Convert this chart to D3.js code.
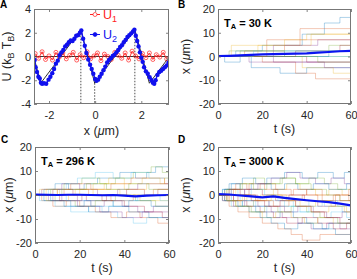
<!DOCTYPE html>
<html><head><meta charset="utf-8">
<script src="https://cdn.jsdelivr.net/npm/d3@7"></script>
<style>
body{margin:0;background:#fff}
text{font-family:"Liberation Sans",Arial,Helvetica,sans-serif}
</style>
</head><body><script>

// ---- panel A data: potential profiles ----
var u1x = [-2.6,-2.45,-2.3,-2.15,-2.0,-1.85,-1.7,-1.55,-1.4,-1.25,-1.1,-0.95,-0.8,-0.65,-0.5,-0.35,-0.2,-0.05,0.1,0.25,0.4,0.55,0.7,0.85,1.0,1.15,1.3,1.45,1.6,1.75,1.9,2.05,2.2,2.35,2.5,2.65,2.8,2.95,3.1];
var u1y = [0.25,-0.15,0.4,-0.25,0.05,-0.3,0.35,-0.05,0.3,-0.2,0.1,0.35,-0.3,0.15,-0.1,0.4,-0.2,0.05,0.3,-0.35,0.2,0.0,-0.25,0.35,0.1,-0.15,0.3,-0.3,0.45,0.05,-0.2,0.25,-0.1,0.3,-0.25,0.15,-0.05,0.35,-0.2];

var u2x = [-2.62,-2.58,-2.52,-2.46,-2.40,-2.35,-2.30,-2.22,-2.12,-2.02,-1.94,-1.86,-1.78,-1.70,-1.62,-1.54,-1.46,-1.38,-1.30,-1.22,-1.14,-1.06,-0.98,-0.90,-0.82,-0.74,-0.66,-0.60,-0.52,-0.45,-0.38,-0.30,-0.22,-0.15,-0.08,0.00,0.06,0.13,0.20,0.28,0.36,0.44,0.52,0.60,0.68,0.76,0.84,0.92,1.00,1.08,1.16,1.24,1.32,1.40,1.48,1.56,1.64,1.70,1.76,1.82,1.88,1.94,2.00,2.06,2.12,2.20,2.28,2.36,2.44,2.50,2.56,2.62,2.70,2.78,2.86,2.94,3.02,3.10,3.18];
var u2y = [-0.3,-0.9,-1.3,-1.7,-1.85,-2.2,-2.3,-2.25,-2.3,-1.95,-1.7,-1.4,-1.05,-0.6,-0.35,0.1,0.35,0.55,0.85,1.0,1.2,1.35,1.3,1.5,1.75,1.8,2.0,2.2,1.5,0.9,0.3,-0.25,-0.7,-1.05,-1.45,-1.9,-2.05,-1.95,-1.7,-1.45,-1.15,-0.85,-0.5,-0.3,-0.15,0.05,0.15,0.35,0.55,0.8,0.95,1.2,1.4,1.65,1.8,1.95,2.1,2.25,1.75,1.3,0.85,0.35,-0.1,-0.45,-0.9,-1.25,-1.45,-1.75,-2.0,-2.2,-2.3,-2.0,-1.55,-1.3,-1.2,-1.05,-0.9,-0.75,-0.5];

// theoretical ratchet (sawtooth) and flat potential
var sawX = [-2.65,-2.36,-0.62,-0.02,1.72,2.35,3.2];
var sawY = [-0.08,-2.25,2.25,-2.25,2.25,-2.25,-0.05];
var flatX = [-2.65,3.2];
var flatY = [0,0];
// dashed markers at peaks / trough
var dashX = [-0.62,-0.02,1.72];
var dashTop = [2.25,-2.25,2.25];

// ---- panels B-D: trajectories as flat [t, x, t, x, ...] change points ----
var trajB = [
  [0,0, 8,2.35, 20,4.7, 38,9.4, 48,14.1, 55,16.45],
  [0,0, 12,2.35, 30,4.7, 37,11.75],
  [0,0, 18,4.7, 42,9.4],
  [0,0, 25,4.7, 45,7.05],
  [0,0, 10,2.35, 50,4.7],
  [0,0, 30,2.35],
  [0,0, 40,-2.35],
  [0,0, 15,-4.7, 28,-7.05, 40,-4.7],
  [0,0, 20,-2.35, 35,-7.05, 44,-9.4],
  [0,0, 38,-4.7, 52,-7.05],
  [0,0, 25,-2.35, 48,-4.7],
  [0,0, 5,2.35, 30,0],
  [0,0],
  [0,0, 35,2.35, 55,4.7],
  [0,0, 3,-2.35, 10,0, 50,2.35],
  [0,0, 22,7.05],
  [0,0, 6,4.7, 30,7.05, 40,9.4],
  [0,0, 14,-2.35],
  [0,0, 45,-2.35],
  [0,0, 16,2.35]
];
var trajC = [
  [0,0, 4,2.35, 9,4.7, 15,2.35, 22,4.7, 28,7.05, 38,9.4, 45,7.05, 50,9.4, 54,11.75],
  [0,0, 3,-2.35, 8,-4.7, 14,-2.35, 20,-4.7, 27,-7.05, 34,-9.4, 41,-7.05, 47,-9.4, 55,-11.75],
  [0,0, 5,2.35, 11,0, 18,2.35, 26,4.7, 33,7.05, 40,4.7, 48,7.05, 56,4.7],
  [0,0, 6,-2.35, 12,0, 19,-2.35, 25,-4.7, 31,-2.35, 39,-4.7, 46,-7.05, 53,-4.7],
  [0,0, 7,2.35, 13,4.7, 21,7.05, 29,4.7, 36,7.05, 44,9.4, 52,11.75, 57,9.4],
  [0,0, 2,-2.35, 9,-4.7, 16,-7.05, 24,-4.7, 30,-7.05, 37,-9.4, 44,-11.75, 50,-9.4],
  [0,0, 8,2.35, 17,0, 23,-2.35, 32,0, 41,2.35, 49,0, 55,2.35],
  [0,0, 4,-2.35, 13,-4.7, 22,-2.35, 35,-4.7, 42,-7.05, 51,-9.4],
  [0,0, 10,2.35, 16,4.7, 25,2.35, 34,4.7, 43,7.05, 58,4.7],
  [0,0, 5,-2.35, 15,0, 26,2.35, 38,0, 47,-2.35],
  [0,0, 3,2.35, 12,4.7, 20,2.35, 28,0, 37,2.35, 46,4.7],
  [0,0, 9,-2.35, 18,-4.7, 27,-2.35, 36,0, 45,-2.35, 54,-4.7],
  [0,0, 6,2.35, 14,4.7, 19,7.05, 27,9.4, 35,7.05, 43,9.4, 51,7.05],
  [0,0, 11,-2.35, 21,0, 30,-2.35, 40,-4.7, 49,-7.05, 57,-9.4],
  [0,0, 7,-2.35, 16,-4.7, 24,-7.05, 33,-4.7, 42,-2.35, 52,-4.7],
  [0,0, 13,2.35, 24,0, 34,-2.35, 44,0, 53,2.35],
  [0,0, 2,2.35, 10,0, 20,2.35, 31,4.7, 40,2.35, 50,4.7, 58,7.05],
  [0,0, 8,-2.35, 19,-4.7, 29,-7.05, 39,-9.4, 48,-7.05],
  [0,0, 12,2.35, 23,4.7, 32,2.35, 42,4.7, 51,2.35],
  [0,0, 14,-2.35, 25,-4.7, 35,-2.35, 46,0, 56,-2.35]
];
var trajD = [
  [0,0, 3,2.35, 6,4.7, 10,2.35, 15,4.7, 22,7.05, 30,9.4, 38,7.05, 45,9.4, 52,7.05, 57,9.4],
  [0,0, 2,-2.35, 5,-4.7, 9,-7.05, 14,-9.4, 20,-11.75, 27,-14.1, 33,-16.45, 38,-18.8, 46,-16.45],
  [0,0, 4,2.35, 8,0, 13,-2.35, 19,0, 25,2.35, 31,4.7, 37,2.35, 44,0, 50,2.35, 56,0],
  [0,0, 3,-2.35, 7,-4.7, 12,-2.35, 18,-4.7, 24,-7.05, 29,-9.4, 36,-11.75, 42,-14.1, 49,-11.75, 55,-14.1],
  [0,0, 5,2.35, 11,4.7, 16,7.05, 21,4.7, 28,7.05, 35,4.7, 41,7.05, 48,4.7, 54,2.35],
  [0,0, 2,2.35, 6,0, 10,-2.35, 17,-4.7, 23,-2.35, 30,-4.7, 37,-7.05, 43,-9.4, 51,-7.05, 58,-9.4],
  [0,0, 4,-2.35, 9,0, 14,2.35, 20,0, 26,-2.35, 32,0, 39,-2.35, 45,-4.7, 53,-2.35],
  [0,0, 6,-2.35, 11,-4.7, 17,-7.05, 22,-9.4, 28,-7.05, 34,-9.4, 40,-11.75, 47,-14.1, 53,-16.45],
  [0,0, 3,2.35, 8,4.7, 13,2.35, 19,4.7, 26,2.35, 33,0, 40,2.35, 47,0, 55,-2.35],
  [0,0, 5,-2.35, 10,-4.7, 16,-2.35, 22,0, 29,-2.35, 35,-4.7, 42,-7.05, 50,-4.7, 57,-7.05],
  [0,0, 2,-2.35, 7,0, 12,2.35, 18,4.7, 24,7.05, 31,9.4, 37,7.05, 44,4.7, 51,7.05, 57,4.7],
  [0,0, 4,-2.35, 8,-4.7, 15,-7.05, 21,-4.7, 27,-7.05, 33,-4.7, 40,-7.05, 46,-9.4, 54,-11.75],
  [0,0, 3,2.35, 9,0, 15,2.35, 21,0, 27,-2.35, 34,-4.7, 41,-2.35, 48,-4.7, 56,-7.05],
  [0,0, 7,-2.35, 13,-4.7, 19,-7.05, 25,-9.4, 31,-11.75, 38,-9.4, 45,-11.75, 52,-14.1, 58,-11.75],
  [0,0, 2,2.35, 5,4.7, 11,7.05, 17,4.7, 24,2.35, 30,4.7, 36,2.35, 43,4.7, 50,2.35, 58,4.7],
  [0,0, 5,-2.35, 12,0, 18,-2.35, 25,-4.7, 32,-2.35, 38,0, 45,-2.35, 52,0, 59,-2.35],
  [0,0, 3,-2.35, 8,-4.7, 14,-7.05, 20,-9.4, 26,-7.05, 33,-9.4, 39,-11.75, 45,-9.4, 52,-11.75],
  [0,0, 6,2.35, 12,0, 17,-2.35, 23,-4.7, 30,-7.05, 36,-4.7, 43,-7.05, 49,-9.4, 56,-7.05],
  [0,0, 4,2.35, 10,4.7, 16,2.35, 22,4.7, 29,7.05, 35,4.7, 42,2.35, 49,0, 55,-2.35],
  [0,0, 2,-2.35, 6,-4.7, 11,-2.35, 16,-4.7, 22,-7.05, 28,-4.7, 34,-7.05, 41,-4.7, 47,-2.35, 54,-4.7],
  [0,0, 5,2.35, 10,0, 15,-2.35, 21,-4.7, 28,-2.35, 35,-4.7, 42,-7.05, 48,-9.4, 55,-11.75],
  [0,0, 3,-2.35, 9,-4.7, 14,-7.05, 19,-9.4, 24,-11.75, 30,-14.1, 36,-11.75, 43,-14.1, 50,-11.75],
  [0,0, 7,2.35, 14,4.7, 21,2.35, 27,0, 34,2.35, 40,0, 47,-2.35, 53,0, 59,2.35],
  [0,0, 4,-2.35, 11,0, 17,-2.35, 24,0, 31,-2.35, 37,-4.7, 44,-2.35, 51,-4.7, 58,-7.05]
];

// ensemble means, every 5 s
var meanT = [0,5,10,15,20,25,30,35,40,45,50,55,60];
var meanB = [0.2,0.3,0.5,0.7,0.9,1.0,1.1,1.2,1.3,1.6,1.9,2.2,2.4];
var meanC = [0.2,0.1,0.0,0.1,0.1,0.0,-0.1,0.0,-0.3,-0.6,-0.3,-0.1,0.0];
var meanD = [0.4,0.2,-0.2,-0.6,-1.0,-0.6,-1.2,-1.7,-2.2,-2.6,-3.0,-3.6,-4.3];

var tTicks = [0,20,40,60];
var xTicksB = [-20,-10,0,10,20];

var lineColors = ["#0072BD","#D95319","#EDB120","#7E2F8E","#77AC30","#4DBEEE","#A2142F"];

var svg = d3.select("body").append("svg")
    .attr("width", 357).attr("height", 279)
    .style("background", "#fff");

var clipN = 0;

// draws axes box + ticks for a panel, returns scales and a clipped group
function panel(p, xdom, ydom, xticks, yticks) {
  var x = d3.scaleLinear().domain(xdom).range([p.l, p.r]);
  var y = d3.scaleLinear().domain(ydom).range([p.b, p.t]);
  var id = "clip" + (clipN++);
  svg.append("clipPath").attr("id", id)
    .append("rect").attr("x", p.l).attr("y", p.t)
    .attr("width", p.r - p.l).attr("height", p.b - p.t);
  var data = svg.append("g").attr("clip-path", "url(#" + id + ")");
  var axes = svg.append("g");
  var fmt = function(d) { return String(d); };
  var style = function(g) {
    g.select(".domain").remove();
    g.selectAll(".tick line").attr("stroke", "#666").attr("stroke-width", 0.8);
    g.selectAll(".tick text").attr("fill", "#262626").style("font-size", "11px")
      .style("font-family", '"Liberation Sans",Arial,sans-serif');
  };
  axes.append("g").attr("transform", "translate(0," + p.b + ")")
    .call(d3.axisBottom(x).tickValues(xticks).tickFormat(fmt).tickSize(-3).tickPadding(7)).call(style);
  axes.append("g").attr("transform", "translate(0," + p.t + ")")
    .call(d3.axisTop(x).tickValues(xticks).tickFormat("").tickSize(-3)).call(style);
  axes.append("g").attr("transform", "translate(" + p.l + ",0)")
    .call(d3.axisLeft(y).tickValues(yticks).tickFormat(fmt).tickSize(-3).tickPadding(3)).call(style);
  axes.append("g").attr("transform", "translate(" + p.r + ",0)")
    .call(d3.axisRight(y).tickValues(yticks).tickFormat("").tickSize(-3)).call(style);
  axes.append("rect").attr("x", p.l + 0.5).attr("y", p.t + 0.5)
    .attr("width", p.r - p.l - 1).attr("height", p.b - p.t - 1)
    .attr("fill", "none").attr("stroke", "#777").attr("stroke-width", 1);
  return {x: x, y: y, data: data, axes: axes};
}

function letter(s, x, y) {
  svg.append("text").attr("x", x).attr("y", y).text(s)
    .style("font-size", "10px").style("font-weight", "bold").attr("fill", "#000");
}

function xLabel(p, parts, base) {
  var t = svg.append("text").attr("x", (p.l + p.r) / 2).attr("y", base)
    .attr("text-anchor", "middle").style("font-size", "12.5px").attr("fill", "#262626");
  parts.forEach(function(q) {
    t.append("tspan").text(q[0]).style("font-style", q[1] ? "italic" : "normal");
  });
}

function yLabelMu(p, xb) {
  var t = svg.append("text")
    .attr("transform", "translate(" + xb + "," + (p.t + p.b) / 2 + ") rotate(-90)")
    .attr("text-anchor", "middle").style("font-size", "12.5px").attr("fill", "#262626");
  t.append("tspan").text("x (");
  t.append("tspan").text("\u03bc").style("font-style", "italic");
  t.append("tspan").text("m)");
}

// ---------- Panel A ----------
var pA = {l: 34, r: 169, t: 9, b: 104};
var A = panel(pA, [-2.65, 3.2], [-4, 4], [-2, 0, 2], [-4, -2, 0, 2, 4]);

var lineA = d3.line().x(function(d) { return A.x(d[0]); }).y(function(d) { return A.y(d[1]); });
var saw = d3.zip(sawX, sawY), flat = d3.zip(flatX, flatY);
var u1 = d3.zip(u1x, u1y), u2 = d3.zip(u2x, u2y);

A.data.append("path").attr("d", lineA(flat)).attr("fill", "none").attr("stroke", "#000").attr("stroke-width", 0.8);
A.data.append("path").attr("d", lineA(saw)).attr("fill", "none").attr("stroke", "#000").attr("stroke-width", 0.8);
A.data.selectAll("line.dash").data(d3.zip(dashX, dashTop)).enter().append("line")
  .attr("class", "dash")
  .attr("x1", function(d) { return A.x(d[0]); }).attr("x2", function(d) { return A.x(d[0]); })
  .attr("y1", function(d) { return A.y(d[1]); }).attr("y2", A.y(-4))
  .attr("stroke", "#000").attr("stroke-width", 0.7).attr("stroke-dasharray", "1.5,1.5");

A.data.append("path").attr("d", lineA(u1)).attr("fill", "none").attr("stroke", "#ff2020").attr("stroke-width", 0.9);
A.data.selectAll("circle.u1").data(u1).enter().append("circle").attr("class", "u1")
  .attr("cx", function(d) { return A.x(d[0]); }).attr("cy", function(d) { return A.y(d[1]); })
  .attr("r", 2).attr("fill", "none").attr("stroke", "#ff2020").attr("stroke-width", 0.7);

A.data.append("path").attr("d", lineA(u2)).attr("fill", "none").attr("stroke", "#1010ee").attr("stroke-width", 1.3);
A.data.selectAll("circle.u2").data(u2).enter().append("circle").attr("class", "u2")
  .attr("cx", function(d) { return A.x(d[0]); }).attr("cy", function(d) { return A.y(d[1]); })
  .attr("r", 2.2).attr("fill", "#1010ee");

// legend
var leg = [
  {name: "U", sub: "1", col: "#ff2020", y: 14.5, open: true},
  {name: "U", sub: "2", col: "#1010ee", y: 34.5, open: false}
];
leg.forEach(function(e) {
  var g = svg.append("g");
  g.append("line").attr("x1", 90).attr("x2", 100).attr("y1", e.y).attr("y2", e.y)
    .attr("stroke", e.col).attr("stroke-width", 1);
  g.append("circle").attr("cx", 95).attr("cy", e.y).attr("r", 2)
    .attr("fill", e.open ? "#fff" : e.col).attr("stroke", e.col).attr("stroke-width", 0.7);
  var t = g.append("text").attr("x", 103).attr("y", e.y + 4.5).attr("fill", e.col).style("font-size", "12.5px");
  t.append("tspan").text(e.name);
  t.append("tspan").text(e.sub).attr("dy", 3).style("font-size", "9px");
});

var tyA = svg.append("text").attr("transform", "translate(11," + (pA.t + pA.b) / 2 + ") rotate(-90)")
  .attr("text-anchor", "middle").style("font-size", "12.5px").attr("fill", "#262626");
tyA.append("tspan").text("U (k");
tyA.append("tspan").text("B").attr("dy", 3).style("font-size", "9px");
tyA.append("tspan").text(" T").attr("dy", -3);
tyA.append("tspan").text("B").attr("dy", 3).style("font-size", "9px");
tyA.append("tspan").text(")").attr("dy", -3);

xLabel(pA, [["x (", false], ["\u03bc", true], ["m)", false]], 135);
letter("A", 0, 8);

// ---------- Panels B, C, D ----------
function trajPanel(p, trajs, mean, tLabel, yLabX) {
  var P = panel(p, [0, 60], [-20, 20], tTicks, xTicksB);
  var line = d3.line().curve(d3.curveStepAfter)
    .x(function(d) { return P.x(d[0]); }).y(function(d) { return P.y(d[1]); });
  trajs.forEach(function(flatArr, i) {
    var pts = [];
    for (var k = 0; k < flatArr.length; k += 2) pts.push([flatArr[k], flatArr[k + 1]]);
    pts.push([60, pts[pts.length - 1][1]]);
    P.data.append("path").attr("d", line(pts)).attr("fill", "none")
      .attr("stroke", lineColors[i % lineColors.length]).attr("stroke-width", 0.75)
      .attr("stroke-opacity", 0.42);
  });
  var mline = d3.line().x(function(d) { return P.x(d[0]); }).y(function(d) { return P.y(d[1]); });
  P.data.append("path").attr("d", mline(d3.zip(meanT, mean))).attr("fill", "none")
    .attr("stroke", "#0a14f0").attr("stroke-width", 2.2);
  var t = svg.append("text").attr("x", p.l + 6).attr("y", p.t + 17.5)
    .style("font-size", "11px").style("font-weight", "bold").attr("fill", "#000");
  t.append("tspan").text("T");
  t.append("tspan").text("A").attr("dy", 2.5).style("font-size", "7.5px");
  t.append("tspan").text(" = " + tLabel).attr("dy", -2.5);
  yLabelMu(p, yLabX);
  xLabel(p, [["t (s)", false]], p.b + 29);
}

var pB = {l: 218, r: 351, t: 9, b: 104};
var pC = {l: 35, r: 169, t: 147, b: 243};
var pD = {l: 218, r: 351, t: 147, b: 243};
trajPanel(pB, trajB, meanB, "30 K", 190);
trajPanel(pC, trajC, meanC, "296 K", 13);
trajPanel(pD, trajD, meanD, "3000 K", 190);
letter("B", 178, 8);
letter("C", 1, 143);
letter("D", 178, 143);

</script></body></html>
